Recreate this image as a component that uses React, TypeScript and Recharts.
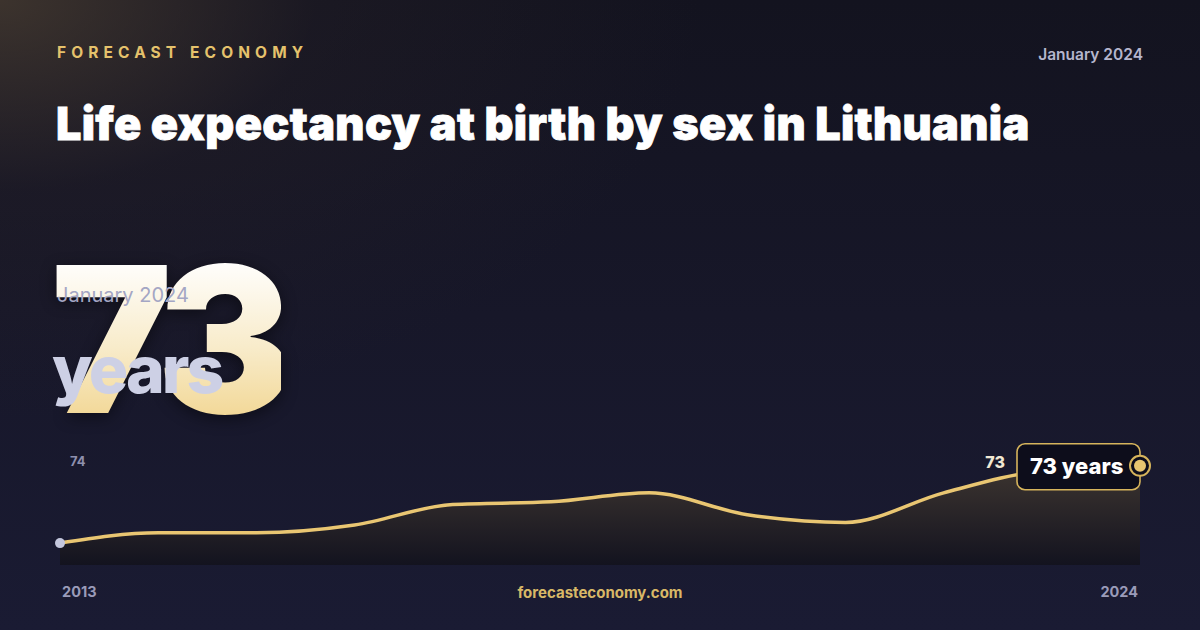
import { AreaChart, Area, XAxis, YAxis } from 'recharts';

const years = ['2013', '2014', '2015', '2016', '2017', '2018', '2019', '2020', '2021', '2022', '2023', '2024'];
const lifeExpectancy = [67.0, 67.8, 67.8, 68.4, 70.0, 70.2, 70.9, 69.2, 68.6, 70.9, 72.6, 73.0];
const axisLabels = { max: '74', min: '67' };

const data = years.map((year, i) => ({ year, value: lifeExpectancy[i] }));
const lastValue = lifeExpectancy[lifeExpectancy.length - 1];

const font = 'Inter, "Noto Sans", sans-serif';

// first point gets a small lavender dot, last one the gold marker with the value box
function EndDot(props: any) {
  const { cx, cy, index } = props;
  if (cx == null || cy == null) return null;
  if (index === 0) {
    return <circle key="d0" cx={cx} cy={cy} r={5} fill="#c4c7dd" />;
  }
  if (index !== data.length - 1) return <g key={`d${index}`} />;
  return (
    <g key="dlast">
      <text x={cx - 135} y={cy + 2} fill="#f1e8d4" fontSize={16} fontWeight={800} fontFamily={font} textAnchor="end">
        {Math.round(lastValue)}
      </text>
      <rect x={cx - 123} y={cy - 22} width={123} height={46} rx={8} fill="#0d0d1b" stroke="#d6b45c" strokeWidth={1.6} />
      <text x={cx - 110} y={cy + 8} fill="#ffffff" fontSize={22} fontWeight={800} fontFamily={font}>
        {Math.round(lastValue)} years
      </text>
      <circle cx={cx} cy={cy} r={10} fill="#0d0d1b" stroke="#d6b45c" strokeWidth={2} />
      <circle cx={cx} cy={cy} r={6} fill="#e8c670" />
    </g>
  );
}

export default function App() {
  return (
    <div
      style={{
        position: 'fixed',
        left: 0,
        top: 0,
        width: 1200,
        height: 630,
        overflow: 'hidden',
        fontFamily: font,
        background:
          'radial-gradient(ellipse 700px 420px at 0px 0px, rgba(74,62,50,0.75) 0%, rgba(40,34,40,0.35) 45%, rgba(20,20,35,0) 100%), linear-gradient(180deg, #13131f 0%, #171729 50%, #1a1b33 100%)',
      }}
    >
      <div style={{ position: 'absolute', left: 57, top: 43, fontSize: 15.5, fontWeight: 700, letterSpacing: 5.1, color: '#e5c26c' }}>
        FORECAST ECONOMY
      </div>
      <div style={{ position: 'absolute', right: 57, top: 45, fontSize: 15.5, fontWeight: 600, color: '#b5b6cd' }}>
        January 2024
      </div>
      <div
        style={{
          position: 'absolute',
          left: 56,
          top: 96,
          fontSize: 45,
          fontWeight: 900,
          letterSpacing: 0.3,
          color: '#ffffff',
          whiteSpace: 'nowrap',
          WebkitTextStroke: '0.8px #ffffff',
        }}
      >
        Life expectancy at birth by sex in Lithuania
      </div>

      {/* big number block */}
      <div
        style={{
          position: 'absolute',
          left: 51,
          top: 237,
          fontSize: 204,
          fontWeight: 900,
          lineHeight: 1,
          letterSpacing: -12,
          background: 'linear-gradient(180deg, #ffffff 10%, #f8ebc9 55%, #f1d48d 95%)',
          WebkitBackgroundClip: 'text',
          backgroundClip: 'text',
          color: 'transparent',
          filter: 'drop-shadow(0 4px 8px rgba(0,0,0,0.45))',
        }}
      >
        {Math.round(lastValue)}
      </div>
      <div style={{ position: 'absolute', left: 57, top: 283, fontSize: 20, fontWeight: 400, color: '#a4a6c4' }}>
        January 2024
      </div>
      <div style={{ position: 'absolute', left: 52, top: 329, fontSize: 66, fontWeight: 800, letterSpacing: -3, color: '#cdd0e5' }}>
        years
      </div>

      <div style={{ position: 'absolute', left: 70, top: 453, fontSize: 13, fontWeight: 700, color: '#8e90ae' }}>{axisLabels.max}</div>
      <div style={{ position: 'absolute', left: 70, top: 538, fontSize: 13, fontWeight: 700, color: '#8e90ae' }}>{axisLabels.min}</div>

      <div style={{ position: 'absolute', left: 40, top: 430 }}>
        <AreaChart width={1120} height={135} data={data} margin={{ top: 10, right: 20, bottom: 0, left: 20 }}>
          <defs>
            <linearGradient id="areaFill" x1="0" y1="0" x2="0" y2="1">
              <stop offset="0%" stopColor="#3d3530" stopOpacity={1} />
              <stop offset="100%" stopColor="#13131f" stopOpacity={1} />
            </linearGradient>
          </defs>
          <XAxis dataKey="year" hide />
          <YAxis hide domain={[65.3, 75]} />
          <Area
            type="monotone"
            dataKey="value"
            stroke="#e9c672"
            strokeWidth={3.5}
            fill="url(#areaFill)"
            fillOpacity={1}
            dot={EndDot}
            activeDot={false}
            isAnimationActive={false}
          />
        </AreaChart>
      </div>

      <div style={{ position: 'absolute', left: 62, top: 583, fontSize: 14.5, fontWeight: 700, color: '#9a9bb9' }}>{years[0]}</div>
      <div style={{ position: 'absolute', left: 0, width: 1200, textAlign: 'center', top: 583, fontSize: 15, fontWeight: 700, color: '#d8b867' }}>
        forecasteconomy.com
      </div>
      <div style={{ position: 'absolute', right: 62, top: 583, fontSize: 14.5, fontWeight: 700, color: '#9a9bb9' }}>{years[years.length - 1]}</div>
    </div>
  );
}
